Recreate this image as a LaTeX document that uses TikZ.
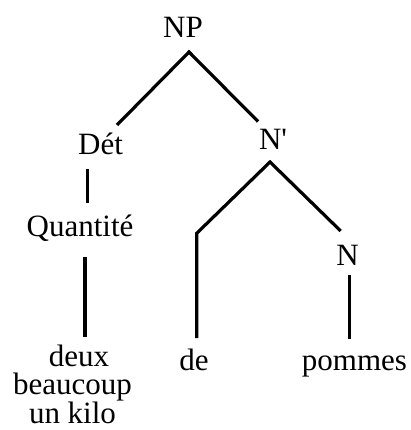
\documentclass[tikz,border=0pt]{standalone}
\usepackage{fontspec}
\setmainfont{Liberation Serif}
\begin{document}
\begin{tikzpicture}[x=1pt,y=-1pt,
  lbl/.style={anchor=base,inner sep=0pt,font=\fontsize{31}{31}\selectfont},
  edge/.style={line width=3.2pt}]
\useasboundingbox (0,0) rectangle (411,430);
\node[lbl] (NP) at (183,38) {NP};
\node[lbl] (Det) at (100.5,155) {Dét};
\node[lbl] (Nbar) at (273,150) {N\textquotesingle};
\node[lbl] (Q) at (80,236.7) {Quantité};
\node[lbl] (N) at (347.5,265) {N};
\node[lbl,anchor=south,align=center,font=\fontsize{31}{28}\selectfont] (words) at (72.5,424)
  {\hspace*{13pt}deux\\beaucoup\\un kilo};
\node[lbl] (de) at (194,370) {de};
\node[lbl] (pommes) at (354.5,370) {pommes};
% connector end points
\coordinate (NPb) at (189,52);
\coordinate (Dett) at (117,125);
\coordinate (Nbart) at (258,121.5);
\coordinate (Detb) at (87.7,169);
\coordinate (Qt) at (87.7,203);
\coordinate (Nbarb) at (270,162);
\coordinate (kink) at (196.7,233.3);
\coordinate (det) at (196.7,338);
\coordinate (Nt) at (340.7,231);
\coordinate (Qb) at (85,256.7);
\coordinate (wordst) at (85,336.7);
\coordinate (Nb) at (349.3,275);
\coordinate (pommest) at (349.3,339);
\draw[edge] (Dett) -- (NPb) -- (Nbart);
\draw[edge] (Detb) -- (Qt);
\draw[edge] (det) -- (kink) -- (Nbarb) -- (Nt);
\draw[edge] (Qb) -- (wordst);
\draw[edge] (Nb) -- (pommest);
\end{tikzpicture}
\end{document}
